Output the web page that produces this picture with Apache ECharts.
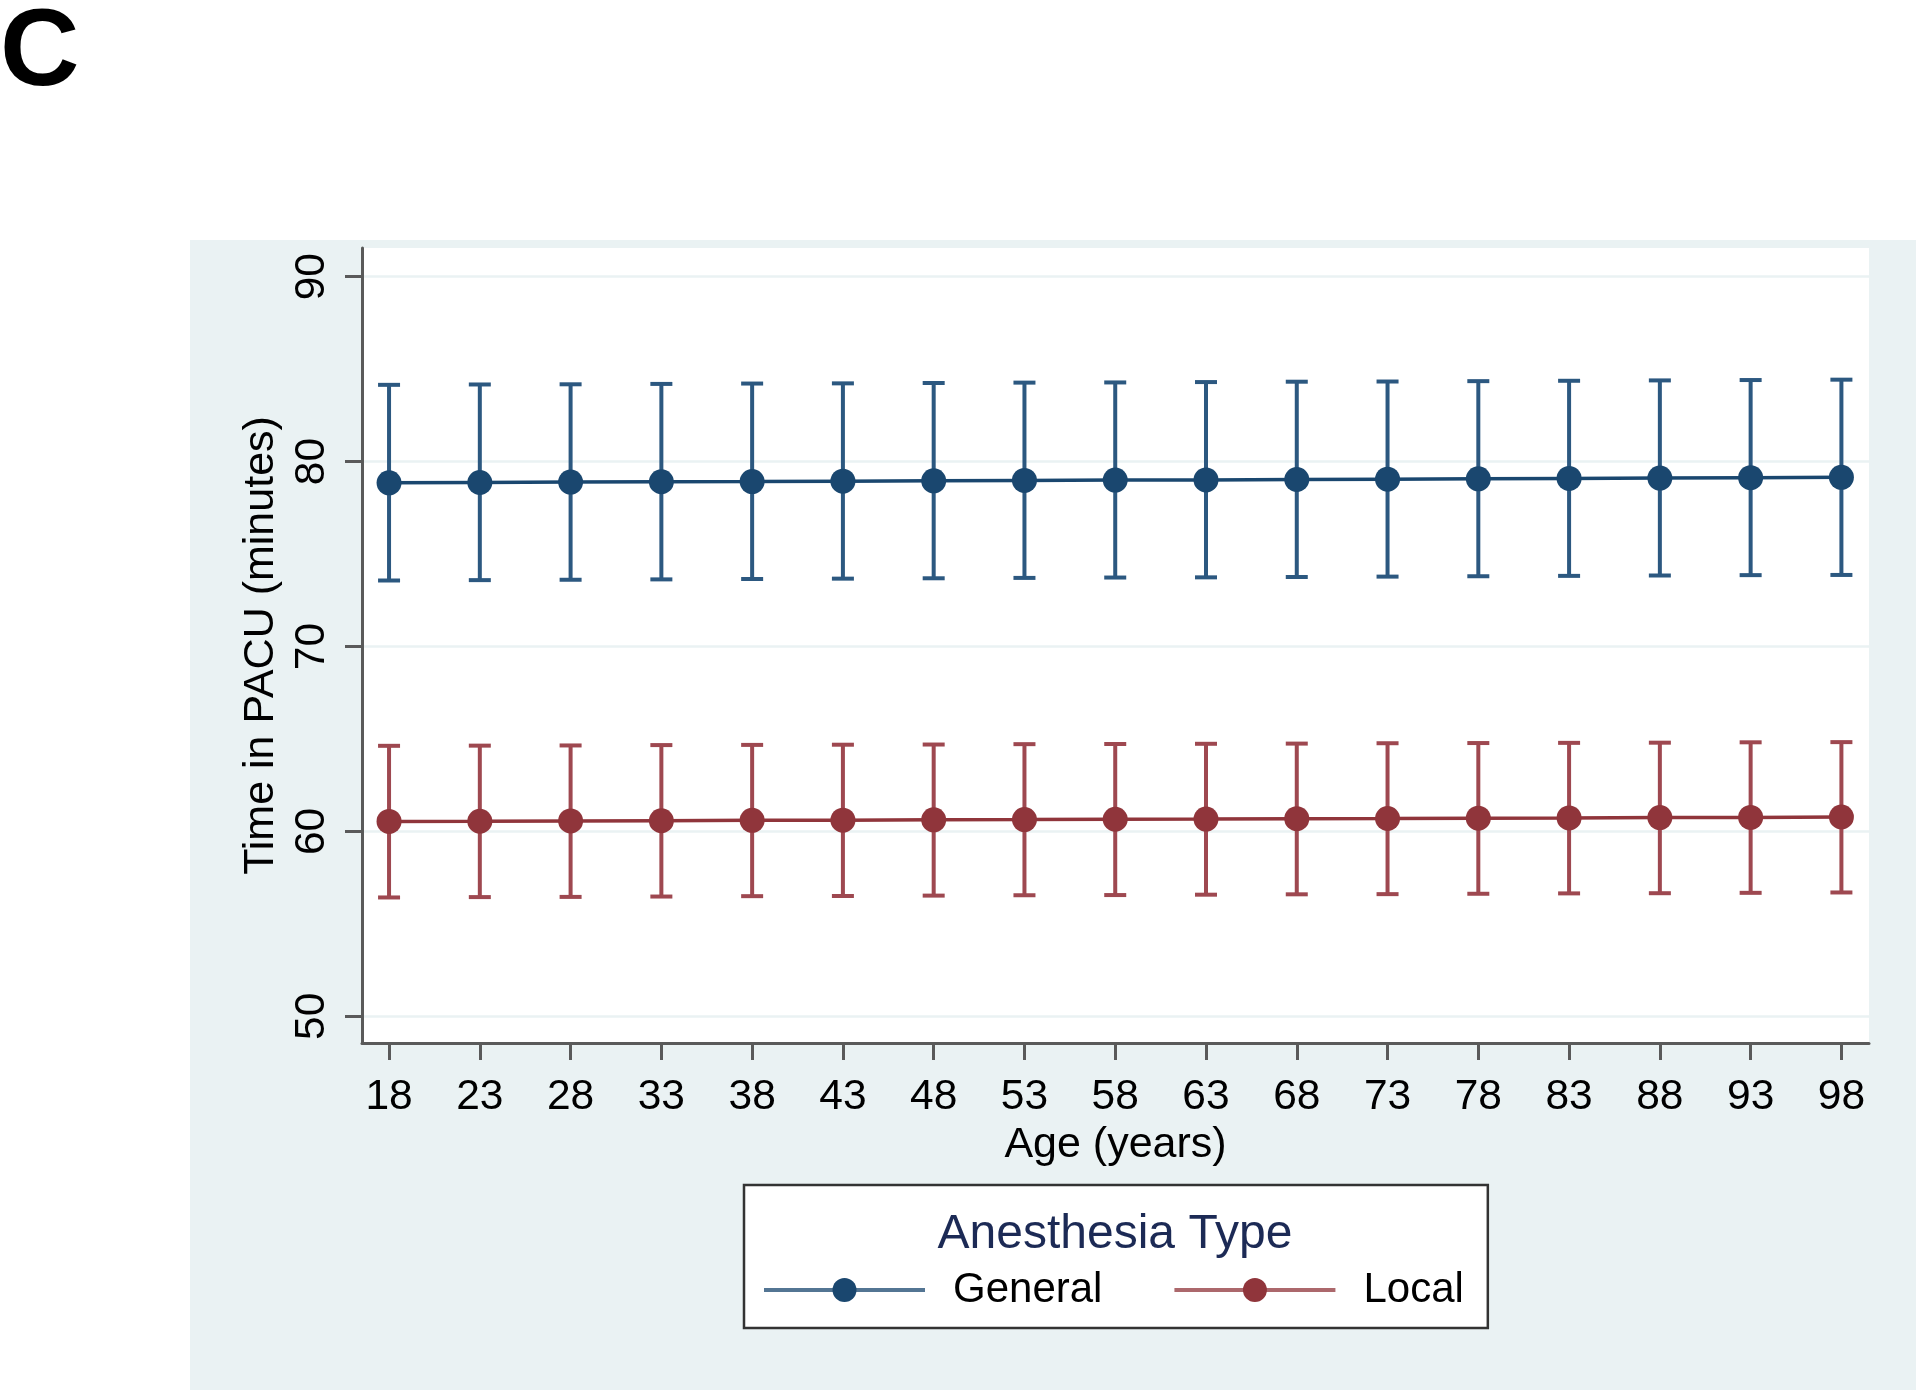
<!DOCTYPE html>
<html>
<head>
<meta charset="utf-8">
<script src="https://cdn.jsdelivr.net/npm/echarts@6/dist/echarts.min.js"></script>
<style>
html,body{margin:0;padding:0;background:#fff;}
#chart{width:1920px;height:1395px;}
</style>
</head>
<body>
<div id="chart"></div>
<script>
// ---- data ----
const ages = [18, 23, 28, 33, 38, 43, 48, 53, 58, 63, 68, 73, 78, 83, 88, 93, 98];
const yTicks = [50, 60, 70, 80, 90];
const generalMean = [78.85, 78.87, 78.89, 78.91, 78.92, 78.94, 78.96, 78.98, 79.00, 79.01, 79.03, 79.05, 79.07, 79.09, 79.11, 79.13, 79.15];
const generalLow  = [73.57, 73.59, 73.61, 73.63, 73.65, 73.67, 73.69, 73.71, 73.73, 73.74, 73.76, 73.78, 73.80, 73.82, 73.84, 73.86, 73.87];
const generalHigh = [84.15, 84.17, 84.18, 84.20, 84.22, 84.23, 84.25, 84.27, 84.28, 84.30, 84.32, 84.33, 84.35, 84.37, 84.39, 84.41, 84.43];
const localMean = [60.54, 60.55, 60.57, 60.58, 60.60, 60.61, 60.63, 60.64, 60.66, 60.67, 60.69, 60.70, 60.72, 60.73, 60.75, 60.76, 60.78];
const localLow  = [56.43, 56.45, 56.46, 56.48, 56.50, 56.51, 56.53, 56.55, 56.56, 56.58, 56.60, 56.61, 56.63, 56.65, 56.66, 56.68, 56.70];
const localHigh = [64.63, 64.64, 64.65, 64.67, 64.68, 64.69, 64.70, 64.72, 64.73, 64.74, 64.75, 64.77, 64.78, 64.79, 64.80, 64.82, 64.83];

// ---- chart ----
const FONT = "'Liberation Sans', Arial, sans-serif";
const NAVY = '#1a476f', NAVY_BAR = '#2c5880';
const MAROON = '#90353b', MAROON_BAR = '#9e4850';

function errRender(color) {
  return function (params, api) {
    const x = api.value(0), lo = api.value(1), hi = api.value(2);
    const pHi = api.coord([x, hi]);
    const pLo = api.coord([x, lo]);
    const hw = 11;
    const style = { stroke: color, lineWidth: 4 };
    return {
      type: 'group',
      children: [
        { type: 'line', shape: { x1: pHi[0], y1: pHi[1], x2: pLo[0], y2: pLo[1] }, style: style },
        { type: 'line', shape: { x1: pHi[0] - hw, y1: pHi[1], x2: pHi[0] + hw, y2: pHi[1] }, style: style },
        { type: 'line', shape: { x1: pLo[0] - hw, y1: pLo[1], x2: pLo[0] + hw, y2: pLo[1] }, style: style }
      ]
    };
  };
}

const chart = echarts.init(document.getElementById('chart'), null, { renderer: 'canvas' });
chart.setOption({
  animation: false,
  backgroundColor: '#ffffff',
  textStyle: { fontFamily: FONT },
  graphic: [
    { type: 'rect', z: -10, shape: { x: 190, y: 240, width: 1726, height: 1150 }, style: { fill: '#eaf2f3' } }
  ],
  title: [
    { text: 'C', left: -5, top: -5, textStyle: { fontFamily: FONT, fontSize: 110, fontWeight: 'bold', color: '#000' } },
    { text: 'Anesthesia Type', left: 1110, top: 1206, textAlign: 'center', z: 10,
      textStyle: { fontFamily: FONT, fontSize: 48, fontWeight: 'normal', color: '#1c2a55' } }
  ],
  legend: {
    left: 744, top: 1185,
    orient: 'horizontal',
    data: ['General', 'Local'],
    padding: [84, 24, 17, 18],
    itemWidth: 161, itemHeight: 30, itemGap: 70,
    backgroundColor: '#ffffff',
    borderColor: '#333333', borderWidth: 2.5, borderRadius: 0,
    lineStyle: { width: 4, opacity: 0.75 },
    textStyle: { fontFamily: FONT, fontSize: 42, color: '#000', padding: [0, 0, 0, 23] }
  },
  grid: {
    left: 362, right: 51, top: 248, bottom: 352,
    show: true, backgroundColor: '#ffffff', borderWidth: 0,
    containLabel: false
  },
  xAxis: {
    type: 'value', min: 16.51, max: 99.52,
    name: 'Age (years)', nameLocation: 'middle', nameGap: 80,
    nameTextStyle: { fontFamily: FONT, fontSize: 43, color: '#000' },
    axisLine: { show: true, onZero: false, lineStyle: { color: '#5a5a5a', width: 3 } },
    axisTick: { show: true, length: 17, customValues: ages, lineStyle: { color: '#5a5a5a', width: 3 } },
    axisLabel: { customValues: ages, margin: 33, fontFamily: FONT, fontSize: 42.5, color: '#000' },
    splitLine: { show: false }
  },
  yAxis: {
    type: 'value', min: 48.56, max: 91.55,
    name: 'Time in PACU (minutes)', nameLocation: 'middle', nameRotate: 90, nameGap: 73,
    nameTextStyle: { fontFamily: FONT, fontSize: 43, color: '#000' },
    axisLine: { show: true, onZero: false, lineStyle: { color: '#5a5a5a', width: 3 } },
    axisTick: { show: true, length: 17, customValues: yTicks, lineStyle: { color: '#5a5a5a', width: 3 } },
    axisLabel: { customValues: yTicks, rotate: 90, margin: 28, fontFamily: FONT, fontSize: 42.5, color: '#000' },
    splitLine: { show: true, lineStyle: { color: '#eaf2f3', width: 2.5 } }
  },
  series: [
    {
      name: 'General CI', type: 'custom', z: 2,
      renderItem: errRender(NAVY_BAR),
      encode: { x: 0, y: [1, 2] },
      data: ages.map((a, i) => [a, generalLow[i], generalHigh[i]])
    },
    {
      name: 'Local CI', type: 'custom', z: 2,
      renderItem: errRender(MAROON_BAR),
      encode: { x: 0, y: [1, 2] },
      data: ages.map((a, i) => [a, localLow[i], localHigh[i]])
    },
    {
      name: 'General', type: 'line', z: 3,
      symbol: 'circle', symbolSize: 25, showSymbol: true,
      itemStyle: { color: NAVY },
      lineStyle: { color: NAVY, width: 3.5 },
      data: ages.map((a, i) => [a, generalMean[i]])
    },
    {
      name: 'Local', type: 'line', z: 3,
      symbol: 'circle', symbolSize: 25, showSymbol: true,
      itemStyle: { color: MAROON },
      lineStyle: { color: MAROON, width: 3.5 },
      data: ages.map((a, i) => [a, localMean[i]])
    }
  ]
});
</script>
</body>
</html>
